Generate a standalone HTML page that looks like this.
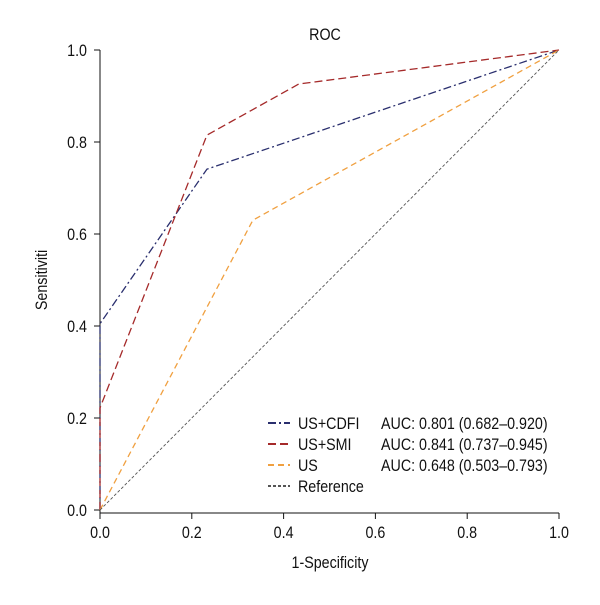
<!DOCTYPE html>
<html><head><meta charset="utf-8"><style>
body{margin:0;background:#fff}
svg text{font-family:"Liberation Sans",sans-serif;fill:#111}
</style></head><body>
<svg width="600" height="600" viewBox="0 0 600 600">
<g id="axes"></g><g id="lines"></g><g id="legend"></g>
</svg>
<script>
const xTicks=[0,0.2,0.4,0.6,0.8,1.0];
const yTicks=[0,0.2,0.4,0.6,0.8,1.0];
const seriesNames=["US+CDFI","US+SMI","US","Reference"];
const seriesAUC=["AUC: 0.801 (0.682–0.920)","AUC: 0.841 (0.737–0.945)","AUC: 0.648 (0.503–0.793)",""];
const cdfiX=[0,0,0.233,1], cdfiY=[0,0.405,0.741,1];
const smiX=[0,0,0.233,0.433,1], smiY=[0,0.222,0.815,0.926,1];
const usX=[0,0.333,1], usY=[0,0.630,1];
const refX=[0,1], refY=[0,1];
const NS="http://www.w3.org/2000/svg";
const sx=v=>100+v*459, sy=v=>510-v*460;
function mk(t,a,p){const e=document.createElementNS(NS,t);for(const k in a)e.setAttribute(k,a[k]);p.appendChild(e);return e;}
function txt(p,x,y,s,anchor,size,rot){const e=mk('text',{x:0,y:0,'text-anchor':anchor,'font-size':size||17,transform:'translate('+x+' '+y+')'+(rot?' rotate('+rot+')':'')+' scale(0.84 1)'},p);e.textContent=s;return e;}
const ax=document.getElementById('axes');
let l=mk('line',{x1:100,y1:50,x2:100,y2:513,stroke:'#111','stroke-width':1},ax);


l=mk('line',{x1:100,y1:513,x2:559,y2:513,stroke:'#111','stroke-width':1},ax);


xTicks.forEach(v=>{mk('line',{x1:sx(v),y1:513,x2:sx(v),y2:519,stroke:'#111'},ax);
 const t=txt(ax,sx(v),538,v.toFixed(1),'middle');
 
 });
yTicks.forEach(v=>{mk('line',{x1:94,y1:sy(v),x2:100,y2:sy(v),stroke:'#111'},ax);
 const t=txt(ax,87,sy(v)+6,v.toFixed(1),'end');
 
 });
let t=txt(ax,330,568,'1-Specificity','middle');


t=txt(ax,47,280,'Sensitiviti','middle',17,-90);


t=txt(ax,325,40,'ROC','middle');


const styles=[['#2a2f6e','8 3 2 3'],['#a52a2a','8 4'],['#f0a040','6 4'],['#555','3 2']];
const data=[[cdfiX,cdfiY],[smiX,smiY],[usX,usY],[refX,refY]];
const lg=document.getElementById('lines');
data.forEach((d,i)=>{const pts=d[0].map((x,j)=>sx(x)+','+sy(d[1][j])).join(' ');
 const p=mk('polyline',{points:pts,fill:'none',stroke:styles[i][0],'stroke-width':i==3?0.9:1.3,'stroke-dasharray':styles[i][1]},lg);
 
 });
const le=document.getElementById('legend');
seriesNames.forEach((n,i)=>{const y=423+i*21;
 mk('line',{x1:268,y1:y,x2:290,y2:y,stroke:styles[i][0],'stroke-width':2,'stroke-dasharray':styles[i][1]},le);
 let a=txt(le,298,y+6,n,'start');
 
 
 if(seriesAUC[i]){a=txt(le,381,y+6,seriesAUC[i],'start',17);
 
 }});
</script>
</body></html>
